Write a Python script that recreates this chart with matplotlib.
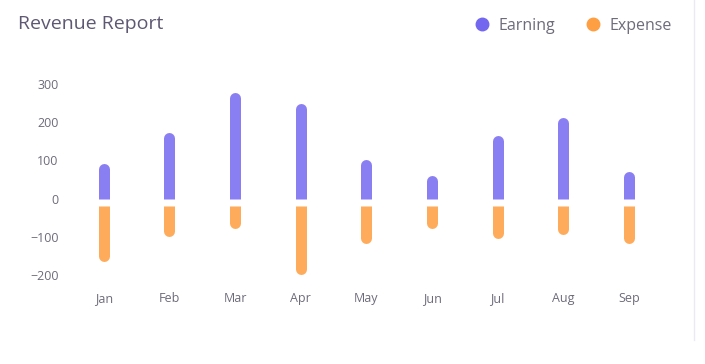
import matplotlib.pyplot as plt
from matplotlib.lines import Line2D

months = ["Jan", "Feb", "Mar", "Apr", "May", "Jun", "Jul", "Aug", "Sep"]
earning = [92, 173, 278, 250, 102, 61, 165, 213, 70]
expense = [-145, -80, -60, -180, -100, -60, -85, -75, -100]
y_ticks = [-200, -100, 0, 100, 200, 300]

earn_color = "#8a7ff2"
exp_color = "#ffab5c"
text_color = "#6e6b7b"

plt.rcParams["font.family"] = ["Open Sans", "DejaVu Sans"]

fig = plt.figure(figsize=(7.05, 3.64), dpi=100)
ax = fig.add_axes([0.1007, 0.2025, 0.838, 0.598])
ax.set_xlim(-0.5, len(months) - 0.5)
ax.set_ylim(-240, 330)

# px per data unit, used for the round caps and the gap below zero
fig.canvas.draw()
p0 = ax.transData.transform((0, 0))[1]
p1 = ax.transData.transform((0, 100))[1]
px_per_unit = (p1 - p0) / 100
bar_px = 11
r = (bar_px / 2) / px_per_unit
gap = 7 / px_per_unit
lw = bar_px * 72 / fig.dpi


def rounded_bar(x, start, end, color):
    sign = 1 if end > start else -1
    tip = end - sign * r
    mid = (start + tip) / 2
    ax.plot([x, x], [start, mid], color=color, lw=lw, solid_capstyle="butt")
    ax.plot([x, x], [mid, tip], color=color, lw=lw, solid_capstyle="round")


for i in range(len(months)):
    rounded_bar(i, 0, earning[i], earn_color)
    rounded_bar(i, -gap, expense[i] - gap, exp_color)

ax.set_xticks(range(len(months)))
ax.set_xticklabels(months)
ax.set_yticks(y_ticks)
ax.tick_params(length=0, colors=text_color, labelsize=9)
ax.tick_params(axis="y", pad=9)
ax.tick_params(axis="x", pad=1)
for s in ax.spines.values():
    s.set_visible(False)

fig.text(18 / 705, 1 - 24 / 364, "Revenue Report", fontsize=14, color="#5e5873", va="center")

handles = [
    Line2D([], [], marker="o", ls="", color="#7367f0", markersize=9),
    Line2D([], [], marker="o", ls="", color="#ff9f43", markersize=9),
]
fig.legend(handles, ["Earning", "Expense"], loc="center right", bbox_to_anchor=(686 / 705, 1 - 26 / 364),
           ncol=2, frameon=False, fontsize=11.5, labelcolor=text_color, handletextpad=0.5,
           columnspacing=1.9, handlelength=1.0)

fig.add_artist(Line2D([694 / 705, 694 / 705], [1 - 340 / 364, 1], color="#ebe9f1", lw=1))

fig.savefig("out.png", dpi=100)
